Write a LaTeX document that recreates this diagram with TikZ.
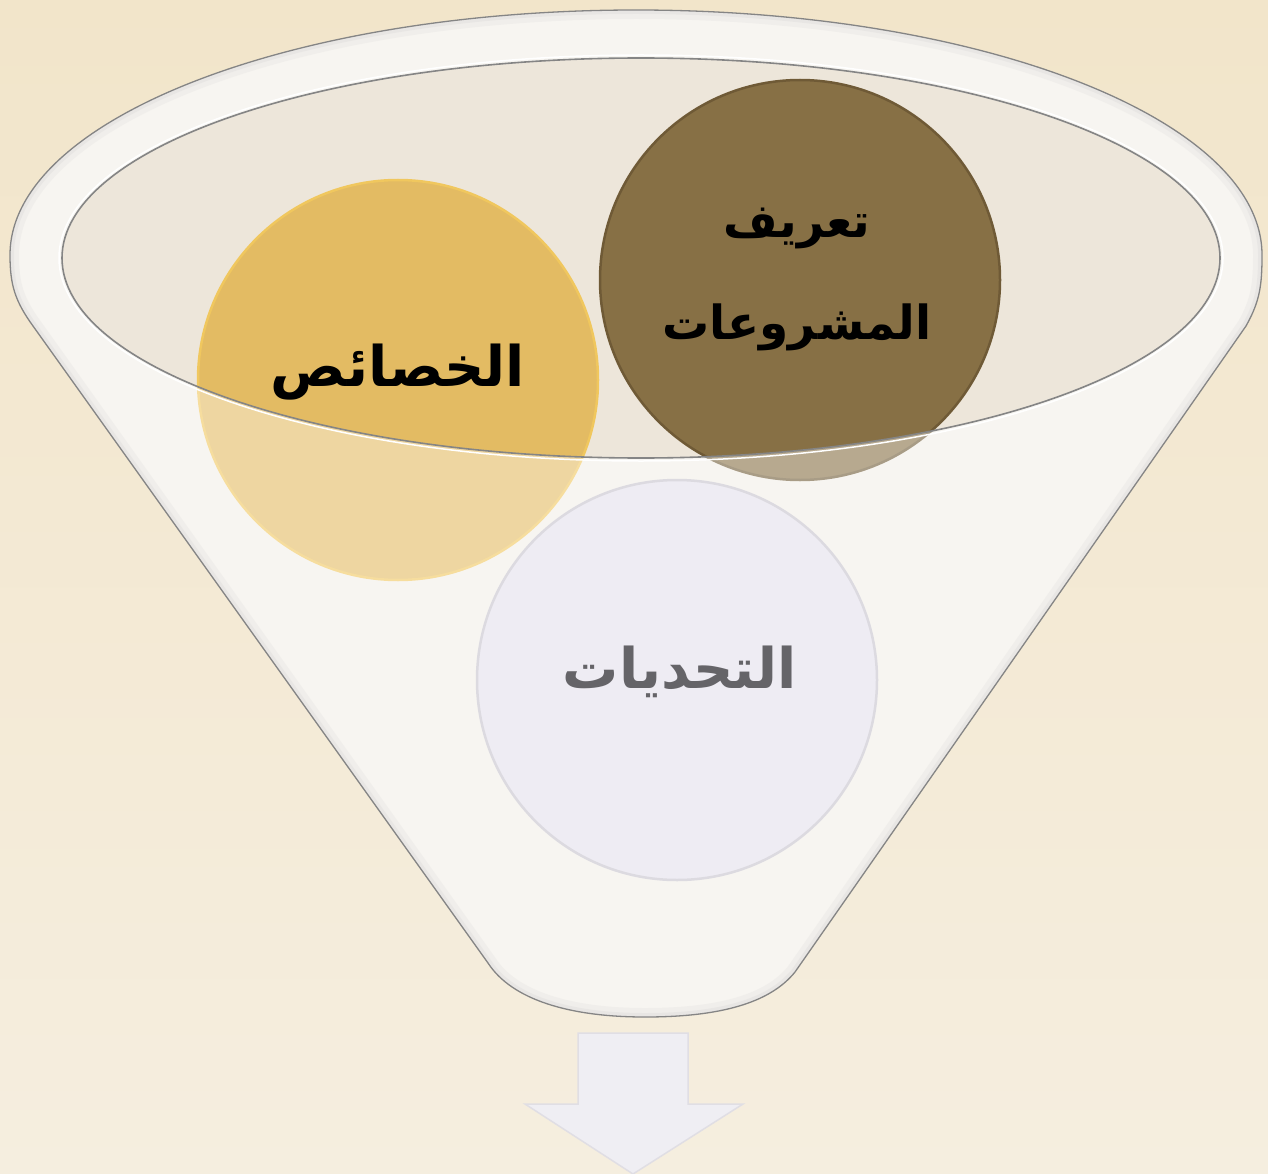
\documentclass[tikz,border=0pt]{standalone}
\usepackage{fontspec}
\newfontfamily\arabicfont[Script=Arabic]{DejaVu Sans}
\TeXXeTstate=1
\definecolor{bgtop}{HTML}{F2E5CA}
\definecolor{bgbot}{HTML}{F5EEDF}
\definecolor{conebase}{HTML}{F3EFE8}
\definecolor{innerfill}{HTML}{EDE6DA}
\definecolor{rimline}{HTML}{858585}
\definecolor{goldfill}{HTML}{E3BB63}
\definecolor{goldedge}{HTML}{F0C75E}
\definecolor{brownfill}{HTML}{877045}
\definecolor{brownedge}{HTML}{6F5A36}
\definecolor{lavfill}{HTML}{EEECF3}
\definecolor{lavedge}{HTML}{DCDAE0}
\definecolor{graytext}{HTML}{656468}
\definecolor{arrowfill}{HTML}{EFEEF3}
\definecolor{arrowedge}{HTML}{E0DEE4}
\definecolor{shadowgray}{HTML}{D8D6D4}
\tikzset{
  ball/.style={circle, minimum size=400pt, inner sep=0pt, line width=2.5pt},
  lbl/.style={font=\arabicfont\bfseries\fontsize{56}{98}\selectfont, align=center, inner sep=0pt},
  lblsmall/.style={lbl, font=\arabicfont\bfseries\fontsize{47}{102}\selectfont},
}
\begin{document}
\begin{tikzpicture}[x=1pt,y=-1pt]
\useasboundingbox (0,0) rectangle (1268,1174);
\fill[top color=bgtop, bottom color=bgbot] (0,0) rectangle (1268,1174);
% funnel outline coordinates
\coordinate (L2) at (488,963);
\coordinate (L1) at (33,326);
\coordinate (R1) at (1246,326);
\coordinate (R2) at (795,972);
\def\funnelpath{(L2) -- (L1) .. controls (15,301) and (10,285) .. (10,255)
  arc[start angle=180, end angle=0, x radius=626pt, y radius=245pt]
  .. controls (1262,285) and (1260,301) .. (R1) -- (R2)
  .. controls (770,1003) and (720,1017) .. (645,1017)
  .. controls (570,1017) and (512,1000) .. (L2) -- cycle}
% funnel back
\fill[conebase] \funnelpath;
\fill[innerfill] (641,258) ellipse [x radius=579pt, y radius=200pt];
% back balls
\node[ball, fill=goldfill, draw=goldedge] (gold) at (398,380) {};
\node[ball, fill=brownfill, draw=brownedge] (brown) at (800,280) {};
% funnel front (translucent)
\fill[white, opacity=0.4, even odd rule] \funnelpath (641,258) ellipse [x radius=579pt, y radius=200pt];
\begin{scope}
  \clip \funnelpath;
  \draw[shadowgray, line width=18pt, opacity=0.2] \funnelpath;
  \draw[shadowgray, line width=8pt, opacity=0.3] \funnelpath;
\end{scope}
\draw[rimline, line width=1.3pt] \funnelpath;
\draw[white, line width=1.5pt] (641,258) ellipse [x radius=582pt, y radius=203pt];
\draw[rimline, line width=1.6pt] (641,258) ellipse [x radius=579pt, y radius=200pt];
% front ball
\node[ball, fill=lavfill, draw=lavedge] (lav) at (677,680) {};
% labels
\node[lbl] (tgold) at (398,372) {\beginR الخصائص\endR};
\node[lblsmall] (tbrown) at (797,279) {\beginR تعريف\endR\\\beginR المشروعات\endR};
\node[lbl, text=graytext] (tlav) at (680,672) {\beginR التحديات\endR};
% arrow
\draw[fill=arrowfill, draw=arrowedge, line width=1.5pt, line join=miter]
  (578,1033) -- (688,1033) -- (688,1104) -- (743,1104) -- (633,1174) -- (525,1104) -- (578,1104) -- cycle;
\end{tikzpicture}
\end{document}
